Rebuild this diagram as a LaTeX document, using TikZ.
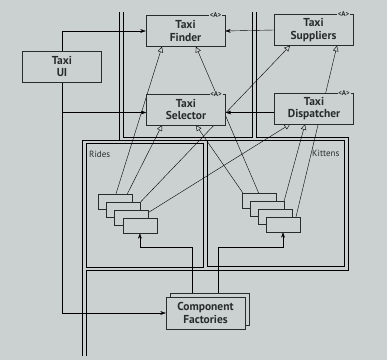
\documentclass[tikz,border=0pt]{standalone}
\usepackage{fontspec}
\setmainfont{PT Sans}
\usetikzlibrary{arrows.meta}

\definecolor{page}{RGB}{203,209,208}
\definecolor{ink}{RGB}{40,44,44}

\pgfdeclarelayer{paper}
\pgfdeclarelayer{wires}
\pgfsetlayers{paper,wires,main}

\begin{document}
\begin{tikzpicture}[
    x=1pt, y=-1pt,
    color=ink, line width=0.7pt,
    >={Stealth[length=5.5pt,width=3.8pt]},
    cls/.style={draw, fill=page, minimum width=79pt, minimum height=31pt,
      inner sep=0pt, align=center, font=\bfseries\fontsize{11.5}{12.5}\selectfont},
    tag/.style={fill=page, inner sep=0.6pt, font=\bfseries\fontsize{7}{7}\selectfont},
    part/.style={draw, fill=page, minimum width=34pt, minimum height=15pt, inner sep=0pt},
    bound/.style={line width=0.85pt},
    isa/.style={-{Triangle[open, length=5.5pt, width=5.5pt, fill=page]}},
    lab/.style={anchor=west, inner sep=0pt, font=\fontsize{9}{10}\selectfont},
  ]
  \useasboundingbox (0,0) rectangle (387,360);
  \begin{pgfonlayer}{paper}
    \fill[page] (0,0) rectangle (387,360);
  \end{pgfonlayer}

  %% ---- services ------------------------------------------------------
  \node[cls] (ui)         at (62,66.5)   {Taxi\\UI};
  \node[cls] (finder)     at (185.5,31)  {Taxi\\Finder};
  \node[cls] (suppliers)  at (313.5,30)  {Taxi\\Suppliers};
  \node[cls] (selector)   at (186,109.5) {Taxi\\Selector};
  \node[cls] (dispatcher) at (314,108.5) {Taxi\\Dispatcher};
  \node[tag, anchor=east] at ([xshift=-3pt]finder.north east)     {<A>};
  \node[tag, anchor=east] at ([xshift=-3pt]suppliers.north east)  {<A>};
  \node[tag, anchor=east] at ([xshift=-3pt]selector.north east)   {<A>};
  \node[tag, anchor=east] at ([xshift=-3pt]dispatcher.north east) {<A>};

  %% ---- rides / kittens components ------------------------------------
  \node[lab] (rides)   at (89,154)  {Rides};
  \node[lab] (kittens) at (312,153) {Kittens};
  \node[part] (r1) at (115,201.5)   {};
  \node[part] (r2) at (123.3,209.5) {};
  \node[part] (r3) at (131.6,217.5) {};
  \node[part] (r4) at (139.9,225.5) {};
  \node[part] (k1) at (259,200.5)   {};
  \node[part] (k2) at (267,208.5)   {};
  \node[part] (k3) at (275,216.5)   {};
  \node[part] (k4) at (283,224.5)   {};

  %% ---- factories -----------------------------------------------------
  \node[cls, minimum height=32pt] (factoriesB) at (209.5,309) {};
  \node[cls, minimum height=32pt] (factories)  at (205.5,313) {Component\\Factories};

  \begin{pgfonlayer}{wires}
    %% boundaries
    \draw[bound] (119,12) -- (119,140);
    \draw[bound] (123,12) -- (123,137) -- (252,137) -- (252,12);
    \draw[bound] (256,12) -- (256,137) -- (348,137) -- (348,270) -- (86,270) -- (86,356);
    \draw[bound] (82,356) -- (82,140) -- (344,140) -- (344,266) -- (207,266) -- (207,140);
    \draw[bound] (86,143) rectangle (203,267);

    %% dependencies
    \draw[->] (ui.north) |- (finder.west);
    \draw[->] (ui.south) |- ([yshift=-3pt]selector.west);
    \draw[->] (ui.south) |- (factories.west);
    \draw[->] (suppliers.west) -- (finder.east);
    \draw[->] ([yshift=-4pt]dispatcher.west) -- ([yshift=-3pt]selector.east);
    \draw[->] ([xshift=-17.5pt]factoriesB.north) -- ++(0,-46) -| (r4.south);
    \draw[->] ([xshift=8.5pt]factoriesB.north) -- ++(0,-46) -| (k4.south);

    %% derived classes
    \draw[isa] ([xshift=1pt]r1.north) -- ([xshift=-23.5pt]finder.south);
    \draw[isa] (r2.north) -- ([xshift=-24pt]selector.south);
    \draw[isa] ([xshift=1.5pt]r3.north) -- ([xshift=-23.5pt]suppliers.south);
    \draw[isa] (r4.north) -- ([xshift=-24pt]dispatcher.south);
    \draw[isa] ([xshift=1pt]k1.north west) -- ([xshift=10pt]selector.south);
    \draw[isa] ([xshift=-5pt]k2.north) -- ([xshift=10.5pt]finder.south);
    \draw[isa] ([xshift=7pt]k3.north) -- ([xshift=-9pt]dispatcher.south);
    \draw[isa] ([xshift=13pt]k4.north) -- ([xshift=23.5pt]suppliers.south);
  \end{pgfonlayer}
\end{tikzpicture}
\end{document}
